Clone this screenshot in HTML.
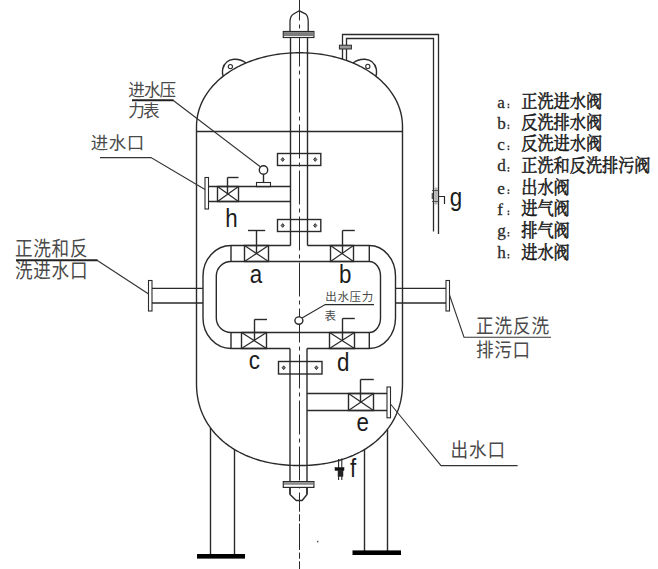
<!DOCTYPE html>
<html><head><meta charset="utf-8"><title>filter tank diagram</title>
<style>
html,body{margin:0;padding:0;background:#fff;}
body{width:658px;height:569px;overflow:hidden;font-family:"Liberation Sans",sans-serif;}
svg{display:block;}
</style></head><body>
<svg width="658" height="569" viewBox="0 0 658 569">
<rect width="658" height="569" fill="#fff"/>
<path d="M196.50 127.00 L196.54 124.85 L196.64 122.78 L196.82 120.73 L197.06 118.71 L197.38 116.70 L197.77 114.71 L198.22 112.74 L198.75 110.78 L199.35 108.84 L200.01 106.92 L200.74 105.02 L201.54 103.13 L202.41 101.27 L203.34 99.43 L204.34 97.61 L205.40 95.81 L206.53 94.04 L207.73 92.29 L208.98 90.57 L210.30 88.87 L211.68 87.21 L213.12 85.57 L214.62 83.96 L216.17 82.39 L217.78 80.85 L219.45 79.34 L221.18 77.86 L222.96 76.42 L224.79 75.01 L226.67 73.65 L228.60 72.32 L230.58 71.02 L232.61 69.77 L234.68 68.56 L236.80 67.38 L238.96 66.25 L241.16 65.17 L243.40 64.12 L245.68 63.12 L248.00 62.16 L250.35 61.25 L252.74 60.38 L255.16 59.55 L257.61 58.78 L260.08 58.05 L262.59 57.36 L265.12 56.73 L267.67 56.14 L270.25 55.60 L272.84 55.10 L275.46 54.66 L278.09 54.26 L280.73 53.91 L283.39 53.61 L286.06 53.36 L288.73 53.15 L291.42 53.00 L294.11 52.89 L296.80 52.82 L299.50 52.80 L302.20 52.82 L304.89 52.89 L307.58 53.00 L310.27 53.15 L312.94 53.36 L315.61 53.61 L318.27 53.91 L320.91 54.26 L323.54 54.66 L326.16 55.10 L328.75 55.60 L331.33 56.14 L333.88 56.73 L336.41 57.36 L338.92 58.05 L341.39 58.78 L343.84 59.55 L346.26 60.38 L348.65 61.25 L351.00 62.16 L353.32 63.12 L355.60 64.12 L357.84 65.17 L360.04 66.25 L362.20 67.38 L364.32 68.56 L366.39 69.77 L368.42 71.02 L370.40 72.32 L372.33 73.65 L374.21 75.01 L376.04 76.42 L377.82 77.86 L379.55 79.34 L381.22 80.85 L382.83 82.39 L384.38 83.96 L385.88 85.57 L387.32 87.21 L388.70 88.87 L390.02 90.57 L391.27 92.29 L392.47 94.04 L393.60 95.81 L394.66 97.61 L395.66 99.43 L396.59 101.27 L397.46 103.13 L398.26 105.02 L398.99 106.92 L399.65 108.84 L400.25 110.78 L400.78 112.74 L401.23 114.71 L401.62 116.70 L401.94 118.71 L402.18 120.73 L402.36 122.78 L402.46 124.85 L402.50 127.00 L402.5 383.0 402.50 383.00 L402.46 385.88 L402.36 388.49 L402.18 390.99 L401.94 393.44 L401.62 395.83 L401.23 398.19 L400.78 400.50 L400.25 402.78 L399.65 405.02 L398.99 407.24 L398.26 409.42 L397.46 411.57 L396.59 413.68 L395.66 415.77 L394.66 417.82 L393.60 419.84 L392.47 421.82 L391.27 423.77 L390.02 425.68 L388.70 427.56 L387.32 429.40 L385.88 431.20 L384.38 432.97 L382.83 434.69 L381.22 436.37 L379.55 438.01 L377.82 439.61 L376.04 441.17 L374.21 442.68 L372.33 444.15 L370.40 445.58 L368.42 446.96 L366.39 448.29 L364.32 449.57 L362.20 450.81 L360.04 452.00 L357.84 453.14 L355.60 454.23 L353.32 455.27 L351.00 456.26 L348.65 457.20 L346.26 458.09 L343.84 458.93 L341.39 459.72 L338.92 460.46 L336.41 461.14 L333.88 461.78 L331.33 462.36 L328.75 462.89 L326.16 463.37 L323.54 463.80 L320.91 464.18 L318.27 464.51 L315.61 464.79 L312.94 465.02 L310.27 465.20 L307.58 465.34 L304.89 465.43 L302.20 465.48 L299.50 465.50 L296.80 465.48 L294.11 465.43 L291.42 465.34 L288.73 465.20 L286.06 465.02 L283.39 464.79 L280.73 464.51 L278.09 464.18 L275.46 463.80 L272.84 463.37 L270.25 462.89 L267.67 462.36 L265.12 461.78 L262.59 461.14 L260.08 460.46 L257.61 459.72 L255.16 458.93 L252.74 458.09 L250.35 457.20 L248.00 456.26 L245.68 455.27 L243.40 454.23 L241.16 453.14 L238.96 452.00 L236.80 450.81 L234.68 449.57 L232.61 448.29 L230.58 446.96 L228.60 445.58 L226.67 444.15 L224.79 442.68 L222.96 441.17 L221.18 439.61 L219.45 438.01 L217.78 436.37 L216.17 434.69 L214.62 432.97 L213.12 431.20 L211.68 429.40 L210.30 427.56 L208.98 425.68 L207.73 423.77 L206.53 421.82 L205.40 419.84 L204.34 417.82 L203.34 415.77 L202.41 413.68 L201.54 411.57 L200.74 409.42 L200.01 407.24 L199.35 405.02 L198.75 402.78 L198.22 400.50 L197.77 398.19 L197.38 395.83 L197.06 393.44 L196.82 390.99 L196.64 388.49 L196.54 385.88 L196.50 383.00 Z" stroke="#2a2a2a" stroke-width="1.4" fill="none" />
<line x1="196.5" y1="131.5" x2="402.5" y2="131.5" stroke="#2a2a2a" stroke-width="1.4" />
<line x1="299.5" y1="0" x2="299.5" y2="500.4" stroke="#2a2a2a" stroke-width="1.0" stroke-dasharray="34 4 4 4" stroke-dashoffset="13.5"/>
<line x1="299.5" y1="500.4" x2="299.5" y2="511.7" stroke="#2a2a2a" stroke-width="1.0" />
<line x1="299.5" y1="514.3" x2="299.5" y2="521.3" stroke="#2a2a2a" stroke-width="1.0" />
<line x1="299.5" y1="523.5" x2="299.5" y2="550" stroke="#2a2a2a" stroke-width="1.0" />
<line x1="299.5" y1="552.6" x2="299.5" y2="558.7" stroke="#2a2a2a" stroke-width="1.0" />
<line x1="299.5" y1="561.3" x2="299.5" y2="569" stroke="#2a2a2a" stroke-width="1.0" />
<path d="M290 31.5 L290 21.5 Q290.3 16 293.2 14.3 L299.3 10.8 L305.4 13.8 Q308 15.8 308.2 21 L308.2 31.5" stroke="#2a2a2a" stroke-width="1.3" fill="none" />
<rect x="283.3" y="31.5" width="30.6" height="6" stroke="#2a2a2a" stroke-width="1.2" fill="#fff"/>
<rect x="283.9" y="32.1" width="29.4" height="3.9" stroke="none" stroke-width="0" fill="#7d7d7d"/>
<line x1="290.5" y1="37.5" x2="290.5" y2="245.5" stroke="#2a2a2a" stroke-width="1.4" />
<line x1="307.5" y1="37.5" x2="307.5" y2="245.5" stroke="#2a2a2a" stroke-width="1.4" />
<line x1="290.0" y1="348.5" x2="290.0" y2="494.5" stroke="#2a2a2a" stroke-width="1.4" />
<line x1="307.0" y1="348.5" x2="307.0" y2="494.5" stroke="#2a2a2a" stroke-width="1.4" />
<path d="M290.0 494.5 L296.3 500.5 L302.1 500.5 L307.0 494.5" stroke="#2a2a2a" stroke-width="1.4" fill="none" />
<rect x="283.3" y="481.6" width="30.6" height="5.8" stroke="#2a2a2a" stroke-width="1.2" fill="#fff"/>
<rect x="283.9" y="482.2" width="29.4" height="2.6" stroke="none" stroke-width="0" fill="#8a8a8a"/>
<line x1="290.0" y1="487.4" x2="290.0" y2="494.5" stroke="#2a2a2a" stroke-width="1.4" />
<line x1="307.0" y1="487.4" x2="307.0" y2="494.5" stroke="#2a2a2a" stroke-width="1.4" />
<path d="M290.5 245.5 L231.0 245.5 A28.0 30.5 0 0 0 203.0 276.0 L203.0 318.0 A28.0 30.5 0 0 0 231.0 348.5 L290.0 348.5" stroke="#2a2a2a" stroke-width="1.4" fill="none" />
<path d="M307.5 245.5 L369.3 245.5 A26.19999999999999 30.5 0 0 1 395.5 276.0 L395.5 318.0 A26.19999999999999 30.5 0 0 1 369.3 348.5 L307.0 348.5" stroke="#2a2a2a" stroke-width="1.4" fill="none" />
<path d="M231.0 261.5 L369.3 261.5 A11.199999999999989 14.5 0 0 1 380.5 276.0 L380.5 318.0 A11.199999999999989 14.5 0 0 1 369.3 332.5 L231.0 332.5 A14.699999999999989 14.5 0 0 1 216.3 318.0 L216.3 276.0 A14.699999999999989 14.5 0 0 1 231.0 261.5 Z" stroke="#2a2a2a" stroke-width="1.4" fill="none" />
<line x1="231.0" y1="245.5" x2="231.0" y2="261.5" stroke="#2a2a2a" stroke-width="1.4" />
<line x1="231.0" y1="332.5" x2="231.0" y2="348.5" stroke="#2a2a2a" stroke-width="1.4" />
<line x1="369.3" y1="245.5" x2="369.3" y2="261.5" stroke="#2a2a2a" stroke-width="1.4" />
<line x1="369.3" y1="332.5" x2="369.3" y2="348.5" stroke="#2a2a2a" stroke-width="1.4" />
<rect x="244.5" y="245.5" width="24.0" height="16.0" stroke="#2a2a2a" stroke-width="1.4" fill="none"/>
<line x1="244.5" y1="245.5" x2="268.5" y2="261.5" stroke="#2a2a2a" stroke-width="1.2" />
<line x1="244.5" y1="261.5" x2="268.5" y2="245.5" stroke="#2a2a2a" stroke-width="1.2" />
<line x1="256.5" y1="253.5" x2="256.5" y2="230.5" stroke="#2a2a2a" stroke-width="1.4" />
<line x1="248" y1="230.5" x2="265.2" y2="230.5" stroke="#2a2a2a" stroke-width="1.4" />
<rect x="330.5" y="245.5" width="23.0" height="16.0" stroke="#2a2a2a" stroke-width="1.4" fill="none"/>
<line x1="330.5" y1="245.5" x2="353.5" y2="261.5" stroke="#2a2a2a" stroke-width="1.2" />
<line x1="330.5" y1="261.5" x2="353.5" y2="245.5" stroke="#2a2a2a" stroke-width="1.2" />
<line x1="342.5" y1="253.5" x2="342.5" y2="230.5" stroke="#2a2a2a" stroke-width="1.4" />
<line x1="342.5" y1="230.5" x2="354.8" y2="230.5" stroke="#2a2a2a" stroke-width="1.4" />
<rect x="241.5" y="332.5" width="25.0" height="16.0" stroke="#2a2a2a" stroke-width="1.4" fill="none"/>
<line x1="241.5" y1="332.5" x2="266.5" y2="348.5" stroke="#2a2a2a" stroke-width="1.2" />
<line x1="241.5" y1="348.5" x2="266.5" y2="332.5" stroke="#2a2a2a" stroke-width="1.2" />
<line x1="254.5" y1="340.5" x2="254.5" y2="319.5" stroke="#2a2a2a" stroke-width="1.4" />
<line x1="254.5" y1="319.5" x2="267" y2="319.5" stroke="#2a2a2a" stroke-width="1.4" />
<rect x="329.5" y="332.5" width="25.0" height="16.0" stroke="#2a2a2a" stroke-width="1.4" fill="none"/>
<line x1="329.5" y1="332.5" x2="354.5" y2="348.5" stroke="#2a2a2a" stroke-width="1.2" />
<line x1="329.5" y1="348.5" x2="354.5" y2="332.5" stroke="#2a2a2a" stroke-width="1.2" />
<line x1="342.5" y1="340.5" x2="342.5" y2="318.5" stroke="#2a2a2a" stroke-width="1.4" />
<line x1="342.5" y1="318.5" x2="354.8" y2="318.5" stroke="#2a2a2a" stroke-width="1.4" />
<rect x="348.5" y="393.5" width="25.0" height="17.0" stroke="#2a2a2a" stroke-width="1.4" fill="none"/>
<line x1="348.5" y1="393.5" x2="373.5" y2="410.5" stroke="#2a2a2a" stroke-width="1.2" />
<line x1="348.5" y1="410.5" x2="373.5" y2="393.5" stroke="#2a2a2a" stroke-width="1.2" />
<line x1="360.5" y1="402.0" x2="360.5" y2="379.5" stroke="#2a2a2a" stroke-width="1.4" />
<line x1="360.5" y1="379.5" x2="373.8" y2="379.5" stroke="#2a2a2a" stroke-width="1.4" />
<rect x="217.5" y="186.5" width="21.0" height="15.0" stroke="#2a2a2a" stroke-width="1.4" fill="none"/>
<line x1="217.5" y1="186.5" x2="238.5" y2="201.5" stroke="#2a2a2a" stroke-width="1.2" />
<line x1="217.5" y1="201.5" x2="238.5" y2="186.5" stroke="#2a2a2a" stroke-width="1.2" />
<line x1="227.5" y1="194.0" x2="227.5" y2="177.5" stroke="#2a2a2a" stroke-width="1.4" />
<line x1="227.5" y1="177.5" x2="238.5" y2="177.5" stroke="#2a2a2a" stroke-width="1.4" />
<line x1="208.4" y1="186.5" x2="290.5" y2="186.5" stroke="#2a2a2a" stroke-width="1.4" />
<line x1="208.4" y1="201.5" x2="290.5" y2="201.5" stroke="#2a2a2a" stroke-width="1.4" />
<rect x="205" y="177.5" width="3.5" height="31.5" stroke="#2a2a2a" stroke-width="1.1" fill="none"/>
<circle cx="263.5" cy="170" r="4.2" fill="none" stroke="#2a2a2a" stroke-width="1.4"/>
<line x1="263.5" y1="174.2" x2="263.5" y2="182" stroke="#2a2a2a" stroke-width="1.4" />
<rect x="256.5" y="182.5" width="14" height="4.2" stroke="#2a2a2a" stroke-width="1.1" fill="none"/>
<line x1="307.0" y1="393.5" x2="387" y2="393.5" stroke="#2a2a2a" stroke-width="1.4" />
<line x1="307.0" y1="410.5" x2="387" y2="410.5" stroke="#2a2a2a" stroke-width="1.4" />
<rect x="387" y="387" width="3.5" height="30.8" stroke="#2a2a2a" stroke-width="1.1" fill="none"/>
<line x1="152" y1="288.4" x2="203.0" y2="288.4" stroke="#2a2a2a" stroke-width="1.4" />
<line x1="152" y1="303" x2="203.0" y2="303" stroke="#2a2a2a" stroke-width="1.4" />
<rect x="148.5" y="280.5" width="3.5" height="30.5" stroke="#2a2a2a" stroke-width="1.1" fill="none"/>
<line x1="395.5" y1="288.4" x2="446" y2="288.4" stroke="#2a2a2a" stroke-width="1.4" />
<line x1="395.5" y1="303" x2="446" y2="303" stroke="#2a2a2a" stroke-width="1.4" />
<rect x="446" y="280.5" width="3.5" height="30.5" stroke="#2a2a2a" stroke-width="1.1" fill="none"/>
<rect x="277.5" y="153.5" width="43.30000000000001" height="12.0" stroke="#2a2a2a" stroke-width="1.4" fill="none"/>
<path d="M281.09999999999997 159.5 L282.7 157.6 L284.3 159.5 L282.7 161.4 Z" stroke="#2a2a2a" stroke-width="0.9" fill="#777" />
<path d="M313.59999999999997 159.5 L315.2 157.6 L316.8 159.5 L315.2 161.4 Z" stroke="#2a2a2a" stroke-width="0.9" fill="#777" />
<rect x="277.5" y="219.5" width="43.30000000000001" height="12.0" stroke="#2a2a2a" stroke-width="1.4" fill="none"/>
<path d="M281.09999999999997 225.5 L282.7 223.6 L284.3 225.5 L282.7 227.4 Z" stroke="#2a2a2a" stroke-width="0.9" fill="#777" />
<path d="M313.59999999999997 225.5 L315.2 223.6 L316.8 225.5 L315.2 227.4 Z" stroke="#2a2a2a" stroke-width="0.9" fill="#777" />
<rect x="278.5" y="361.5" width="43.5" height="12.5" stroke="#2a2a2a" stroke-width="1.4" fill="none"/>
<path d="M282.09999999999997 367.75 L283.7 365.85 L285.3 367.75 L283.7 369.65 Z" stroke="#2a2a2a" stroke-width="0.9" fill="#777" />
<path d="M314.79999999999995 367.75 L316.4 365.85 L318.0 367.75 L316.4 369.65 Z" stroke="#2a2a2a" stroke-width="0.9" fill="#777" />
<ellipse cx="298.9" cy="320.6" rx="4" ry="3.7" fill="#fff" stroke="#2a2a2a" stroke-width="1.4"/>
<path d="M302 318 L325.2 304.6 L374 304.6" stroke="#2a2a2a" stroke-width="1.1" fill="none" />
<path d="M342.5 59.1 L342.5 34.5 L438.5 34.5 L438.5 234" stroke="#2a2a2a" stroke-width="1.3" fill="none" />
<path d="M346.5 60.5 L346.5 38.5 L433.5 38.5 L433.5 231.5" stroke="#2a2a2a" stroke-width="1.3" fill="none" />
<rect x="339.4" y="45.2" width="12" height="3.8" stroke="#2a2a2a" stroke-width="1.0" fill="#999"/>
<rect x="434.2" y="187.5" width="3.6" height="17" stroke="none" stroke-width="0" fill="#b5b5b5"/>
<line x1="432" y1="190.5" x2="438.5" y2="190.5" stroke="#444" stroke-width="0.9" />
<line x1="432" y1="201.5" x2="438.5" y2="201.5" stroke="#444" stroke-width="0.9" />
<line x1="432.3" y1="193" x2="432.3" y2="199" stroke="#444" stroke-width="1.2" />
<path d="M438.5 196.5 L444.5 196.5 L444.5 204" stroke="#2a2a2a" stroke-width="1.2" fill="none" />
<line x1="338.6" y1="459" x2="338.6" y2="480" stroke="#2a2a2a" stroke-width="1.1" />
<line x1="341.8" y1="458.5" x2="341.8" y2="480" stroke="#2a2a2a" stroke-width="1.1" />
<rect x="335" y="467.6" width="9" height="2.8" stroke="#111" stroke-width="0.5" fill="#111"/>
<rect x="338" y="470.4" width="5" height="6" stroke="#222" stroke-width="0.5" fill="#222"/>
<path d="M353 63.0 Q358 59 365 59.3 Q374 60 376.3 69 Q377 74 375.6 76.1" stroke="#2a2a2a" stroke-width="1.4" fill="none" />
<circle cx="367.8" cy="66.4" r="2.1" fill="none" stroke="#2a2a2a" stroke-width="1.1"/>
<path d="M246.0 63.0 Q241.0 59 234.0 59.3 Q225.0 60 222.7 69 Q222.0 74 223.4 76.1" stroke="#2a2a2a" stroke-width="1.4" fill="none" />
<circle cx="230.4" cy="66.6" r="2.1" fill="none" stroke="#2a2a2a" stroke-width="1.1"/>
<line x1="210.5" y1="427.8" x2="210.5" y2="555" stroke="#2a2a2a" stroke-width="1.4" />
<line x1="234.5" y1="449.5" x2="234.5" y2="555" stroke="#2a2a2a" stroke-width="1.4" />
<rect x="197" y="554" width="48" height="4.6" stroke="none" stroke-width="0" fill="#000"/>
<line x1="364.5" y1="449.5" x2="364.5" y2="551" stroke="#2a2a2a" stroke-width="1.4" />
<line x1="387.5" y1="429.2" x2="387.5" y2="551" stroke="#2a2a2a" stroke-width="1.4" />
<rect x="352.5" y="550.4" width="48.5" height="4.6" stroke="none" stroke-width="0" fill="#000"/>
<rect x="317" y="540.8" width="1.4" height="1.6" fill="#555"/>
<path d="M173 100.3 L260.4 166.8" stroke="#333" stroke-width="1.15" fill="none" />
<path d="M132 100.3 L173.5 100.3" stroke="#222" stroke-width="1.9" fill="none" />
<path d="M100 157.6 L151 157.6 L205 189.5" stroke="#333" stroke-width="1.1" fill="none" />
<path d="M97 260.2 L148.6 294" stroke="#333" stroke-width="1.15" fill="none" />
<path d="M16 260.2 L97.5 260.2" stroke="#222" stroke-width="1.9" fill="none" />
<path d="M449.5 295 L464 337.2 L551 337.2" stroke="#333" stroke-width="1.1" fill="none" />
<path d="M390.5 404 L441 465.6 L517.6 465.6" stroke="#333" stroke-width="1.1" fill="none" />
<text x="128.3 143.9 159.5" y="96.11" font-family="'Liberation Sans', 'Noto Sans CJK SC', sans-serif" font-size="16.6" fill="#4a4a4a">进水压</text>
<text x="128.3 142.9" y="116.61" font-family="'Liberation Sans', 'Noto Sans CJK SC', sans-serif" font-size="16.6" fill="#4a4a4a">力表</text>
<text x="90.8 108.8 126.8" y="148.9" font-family="'Liberation Sans', 'Noto Sans CJK SC', sans-serif" font-size="17.5" fill="#4a4a4a">进水口</text>
<text transform="translate(15 255.81) scale(1 1.15)" x="0 18.3 36.6 54.9" y="0" font-family="'Liberation Sans', 'Noto Sans CJK SC', sans-serif" font-size="17.6" fill="#4a4a4a">正洗和反</text>
<text transform="translate(15 277.81) scale(1 1.15)" x="0 18.3 36.6 54.9" y="0" font-family="'Liberation Sans', 'Noto Sans CJK SC', sans-serif" font-size="17.6" fill="#4a4a4a">洗进水口</text>
<text x="325.2 337.4 349.6 361.8" y="301.12" font-family="'Liberation Sans', 'Noto Sans CJK SC', sans-serif" font-size="11.5" fill="#4a4a4a">出水压力</text>
<text x="324.5" y="319.92" font-family="'Liberation Sans', 'Noto Sans CJK SC', sans-serif" font-size="11.5" fill="#4a4a4a">表</text>
<text transform="translate(476 332.7) scale(1 1.13)" x="0 18.5 37 55.5" y="0" font-family="'Liberation Sans', 'Noto Sans CJK SC', sans-serif" font-size="17.6" fill="#4a4a4a">正洗反洗</text>
<text transform="translate(476 356.5) scale(1 1.13)" x="0 18.3 36.6" y="0" font-family="'Liberation Sans', 'Noto Sans CJK SC', sans-serif" font-size="17.6" fill="#4a4a4a">排污口</text>
<text transform="translate(450.4 457) scale(1 1.13)" x="0 18.5 37" y="0" font-family="'Liberation Sans', 'Noto Sans CJK SC', sans-serif" font-size="17.6" fill="#4a4a4a">出水口</text>
<text transform="translate(497.2 107.9) scale(1.04 1)" font-family="Liberation Serif, serif" font-size="16.5" fill="#2a2a2a" stroke="#2a2a2a" stroke-width="0.25">a</text>
<rect x="507.6" y="103.7" width="1.7" height="1.7" fill="#333"/><rect x="507.6" y="106.5" width="1.7" height="1.7" fill="#333"/>
<text transform="translate(521.3 108.34) scale(1 1.09)" x="0 16.15 32.3 48.45 64.6" y="0" font-family="'Liberation Serif', 'Noto Serif CJK SC', serif" font-size="16.2" fill="#1a1a1a" stroke="#1a1a1a" stroke-width="0.5">正洗进水阀</text>
<text transform="translate(497.2 128.8) scale(1.04 1)" font-family="Liberation Serif, serif" font-size="16.5" fill="#2a2a2a" stroke="#2a2a2a" stroke-width="0.25">b</text>
<rect x="507.6" y="124.6" width="1.7" height="1.7" fill="#333"/><rect x="507.6" y="127.4" width="1.7" height="1.7" fill="#333"/>
<text transform="translate(521.3 129.24) scale(1 1.09)" x="0 16.15 32.3 48.45 64.6" y="0" font-family="'Liberation Serif', 'Noto Serif CJK SC', serif" font-size="16.2" fill="#1a1a1a" stroke="#1a1a1a" stroke-width="0.5">反洗排水阀</text>
<text transform="translate(497.2 149.8) scale(1.04 1)" font-family="Liberation Serif, serif" font-size="16.5" fill="#2a2a2a" stroke="#2a2a2a" stroke-width="0.25">c</text>
<rect x="507.6" y="145.6" width="1.7" height="1.7" fill="#333"/><rect x="507.6" y="148.4" width="1.7" height="1.7" fill="#333"/>
<text transform="translate(521.3 150.24) scale(1 1.09)" x="0 16.15 32.3 48.45 64.6" y="0" font-family="'Liberation Serif', 'Noto Serif CJK SC', serif" font-size="16.2" fill="#1a1a1a" stroke="#1a1a1a" stroke-width="0.5">反洗进水阀</text>
<text transform="translate(497.2 171.4) scale(1.04 1)" font-family="Liberation Serif, serif" font-size="16.5" fill="#2a2a2a" stroke="#2a2a2a" stroke-width="0.25">d</text>
<rect x="507.6" y="167.2" width="1.7" height="1.7" fill="#333"/><rect x="507.6" y="170.0" width="1.7" height="1.7" fill="#333"/>
<text transform="translate(521.3 171.84) scale(1 1.09)" x="0 16.15 32.3 48.45 64.6 80.75 96.9 113.05" y="0" font-family="'Liberation Serif', 'Noto Serif CJK SC', serif" font-size="16.2" fill="#1a1a1a" stroke="#1a1a1a" stroke-width="0.5">正洗和反洗排污阀</text>
<text transform="translate(497.2 193.6) scale(1.04 1)" font-family="Liberation Serif, serif" font-size="16.5" fill="#2a2a2a" stroke="#2a2a2a" stroke-width="0.25">e</text>
<rect x="507.6" y="189.4" width="1.7" height="1.7" fill="#333"/><rect x="507.6" y="192.2" width="1.7" height="1.7" fill="#333"/>
<text transform="translate(521.3 194.04) scale(1 1.09)" x="0 16.15 32.3" y="0" font-family="'Liberation Serif', 'Noto Serif CJK SC', serif" font-size="16.2" fill="#1a1a1a" stroke="#1a1a1a" stroke-width="0.5">出水阀</text>
<text transform="translate(497.2 214.8) scale(1.04 1)" font-family="Liberation Serif, serif" font-size="16.5" fill="#2a2a2a" stroke="#2a2a2a" stroke-width="0.25">f</text>
<rect x="507.6" y="210.6" width="1.7" height="1.7" fill="#333"/><rect x="507.6" y="213.4" width="1.7" height="1.7" fill="#333"/>
<text transform="translate(521.3 215.24) scale(1 1.09)" x="0 16.15 32.3" y="0" font-family="'Liberation Serif', 'Noto Serif CJK SC', serif" font-size="16.2" fill="#1a1a1a" stroke="#1a1a1a" stroke-width="0.5">进气阀</text>
<text transform="translate(497.2 236.2) scale(1.04 1)" font-family="Liberation Serif, serif" font-size="16.5" fill="#2a2a2a" stroke="#2a2a2a" stroke-width="0.25">g</text>
<rect x="507.6" y="232.0" width="1.7" height="1.7" fill="#333"/><rect x="507.6" y="234.8" width="1.7" height="1.7" fill="#333"/>
<text transform="translate(521.3 236.64) scale(1 1.09)" x="0 16.15 32.3" y="0" font-family="'Liberation Serif', 'Noto Serif CJK SC', serif" font-size="16.2" fill="#1a1a1a" stroke="#1a1a1a" stroke-width="0.5">排气阀</text>
<text transform="translate(497.2 258.2) scale(1.04 1)" font-family="Liberation Serif, serif" font-size="16.5" fill="#2a2a2a" stroke="#2a2a2a" stroke-width="0.25">h</text>
<rect x="507.6" y="254.0" width="1.7" height="1.7" fill="#333"/><rect x="507.6" y="256.8" width="1.7" height="1.7" fill="#333"/>
<text transform="translate(521.3 258.64) scale(1 1.09)" x="0 16.15 32.3" y="0" font-family="'Liberation Serif', 'Noto Serif CJK SC', serif" font-size="16.2" fill="#1a1a1a" stroke="#1a1a1a" stroke-width="0.5">进水阀</text>
<text transform="translate(225.3 226.6) scale(0.86 1)" font-family="Liberation Sans, sans-serif" font-size="26" fill="#1c1c1c">h</text>
<text transform="translate(249.8 283) scale(0.86 1)" font-family="Liberation Sans, sans-serif" font-size="26" fill="#1c1c1c">a</text>
<text transform="translate(339 283.2) scale(0.86 1)" font-family="Liberation Sans, sans-serif" font-size="26" fill="#1c1c1c">b</text>
<text transform="translate(248.8 369) scale(0.86 1)" font-family="Liberation Sans, sans-serif" font-size="26" fill="#1c1c1c">c</text>
<text transform="translate(337 371.4) scale(0.86 1)" font-family="Liberation Sans, sans-serif" font-size="26" fill="#1c1c1c">d</text>
<text transform="translate(356.5 431) scale(0.86 1)" font-family="Liberation Sans, sans-serif" font-size="26" fill="#1c1c1c">e</text>
<text transform="translate(350 476.8) scale(0.86 1)" font-family="Liberation Sans, sans-serif" font-size="26" fill="#1c1c1c">f</text>
<text transform="translate(449.8 205.6) scale(0.86 1)" font-family="Liberation Sans, sans-serif" font-size="26" fill="#1c1c1c">g</text>
</svg>
</body></html>
